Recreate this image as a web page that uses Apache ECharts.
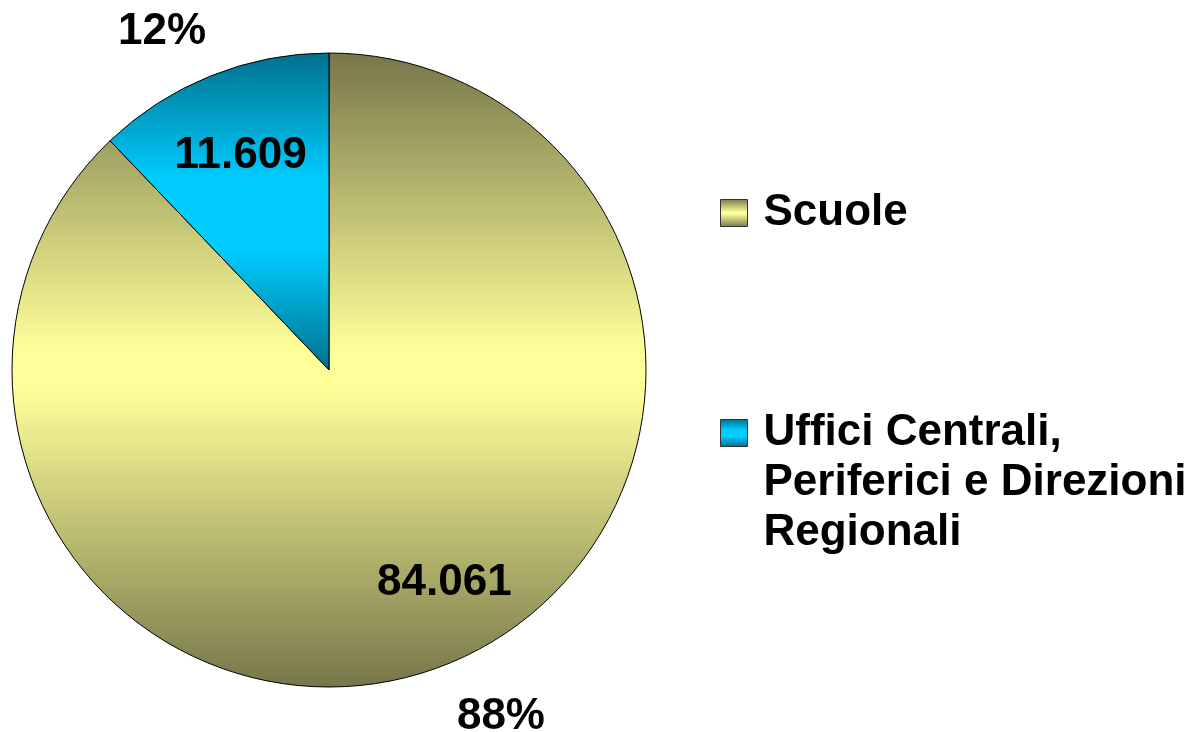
<!DOCTYPE html>
<html>
<head>
<meta charset="utf-8">
<style>
  html, body { margin: 0; padding: 0; background: #ffffff; }
  #chart { width: 1192px; height: 732px; }
</style>
<script src="https://cdn.jsdelivr.net/npm/echarts@6/dist/echarts.min.js"></script>
</head>
<body>
<div id="chart"></div>
<script>
// ---- data ----
var categories = ['Scuole', 'Uffici Centrali,\nPeriferici e Direzioni\nRegionali'];
var values = [84061, 11609];

// ---- styles ----
var FONT = "'Liberation Sans', Arial, sans-serif";
var FS = 44;
function grad(dark, light, a, b) {
  return new echarts.graphic.LinearGradient(0, 0, 0, 1, [
    { offset: 0, color: dark },
    { offset: a, color: light },
    { offset: b, color: light },
    { offset: 1, color: dark }
  ]);
}
var sliceColors = [
  grad('#76764a', '#ffff99', 0.47, 0.53),
  grad('#00718c', '#00ccff', 0.4, 0.62)
];
// small label nudges (style only)
var valueLabelOffsets = [[27, -8], [0, 6]];
var pctLabelOffsets = [[2, 4], [3, 5]];

function fmtThousands(v) {
  return String(v).replace(/\B(?=(\d{3})+(?!\d))/g, '.');
}

var cx = 329, cy = 370, R = 317;

var mainData = categories.map(function (c, i) {
  return { name: c, value: values[i], itemStyle: { color: sliceColors[i] } };
});
function ghost(offsets) {
  return categories.map(function (c, i) {
    return { name: c, value: values[i], label: { offset: offsets[i] } };
  });
}

var labelText = { color: '#000', fontSize: FS, fontWeight: 'bold', fontFamily: FONT };
var tStyle = { color: '#000', fontSize: FS, fontWeight: 'bold', fontFamily: FONT, lineHeight: 50 };

var chart = echarts.init(document.getElementById('chart'), null, { renderer: 'canvas' });
chart.setOption({
  animation: false,
  backgroundColor: '#ffffff',
  legend: [
    {
      data: [categories[0]],
      orient: 'vertical',
      left: 720,
      top: 188,
      padding: 0,
      icon: 'rect',
      itemWidth: 27,
      itemHeight: 27,
      itemStyle: { borderColor: '#333', borderWidth: 1 },
      selectedMode: false,
      textStyle: Object.assign({ padding: [0, 0, 0, 11] }, tStyle)
    },
    {
      data: [categories[1]],
      orient: 'vertical',
      left: 720,
      top: 353,
      padding: 0,
      icon: 'rect',
      itemWidth: 27,
      itemHeight: 27,
      itemStyle: { borderColor: '#333', borderWidth: 1 },
      selectedMode: false,
      formatter: function (name) {
        return '{sp| }\n' + name.split('\n').map(function (l) { return '{t|' + l + '}'; }).join('\n');
      },
      textStyle: {
        padding: [0, 0, 0, 11],
        rich: {
          sp: { fontSize: 10, lineHeight: 100 },
          t: tStyle
        }
      }
    }
  ],
  series: [
    {
      type: 'pie',
      center: [cx, cy],
      radius: R,
      startAngle: 90,
      clockwise: true,
      silent: true,
      label: { show: false },
      labelLine: { show: false },
      itemStyle: { borderColor: '#000', borderWidth: 1 },
      data: mainData
    },
    {
      // value labels (inside)
      type: 'pie',
      center: [cx, cy],
      radius: R * 1.48,
      startAngle: 90,
      clockwise: true,
      silent: true,
      itemStyle: { color: 'rgba(0,0,0,0)', borderWidth: 0 },
      label: Object.assign({ show: true, position: 'inside',
        formatter: function (p) { return fmtThousands(p.value); } }, labelText),
      labelLine: { show: false },
      data: ghost(valueLabelOffsets)
    },
    {
      // percent labels (outside)
      type: 'pie',
      center: [cx, cy],
      radius: 760,
      startAngle: 94.5,
      clockwise: true,
      silent: true,
      itemStyle: { color: 'rgba(0,0,0,0)', borderWidth: 0 },
      label: Object.assign({ show: true, position: 'inside',
        formatter: function (p) { return Math.round(p.percent) + '%'; } }, labelText),
      labelLine: { show: false },
      data: ghost(pctLabelOffsets)
    }
  ]
});
</script>
</body>
</html>
